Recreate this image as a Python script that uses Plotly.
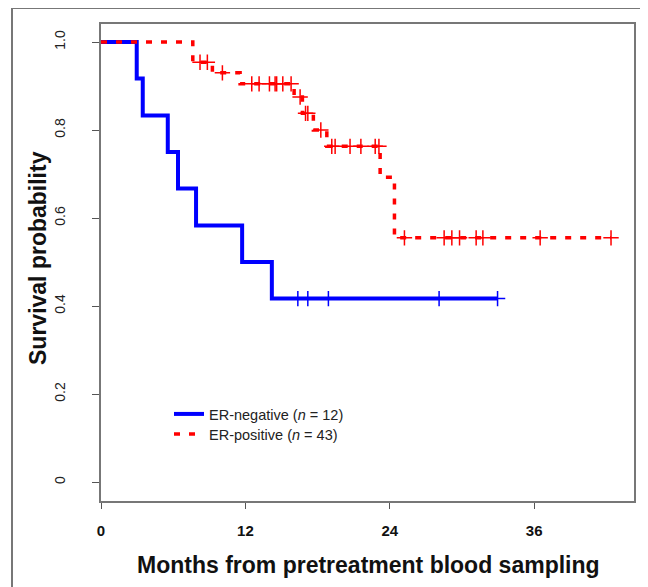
import numpy as np
import plotly.graph_objects as go

# ER-negative (n = 12): event times (months) and survival after each step
neg_times = [0, 2.97, 3.47, 5.55, 6.4, 7.9, 11.73, 14.2]
neg_surv = [1.0, 0.917, 0.833, 0.75, 0.667, 0.583, 0.5, 0.417]
neg_end = 32.96
neg_censor = [16.36, 17.19, 18.9, 28.1, 32.96]

# ER-positive (n = 43)
pos_times = [0, 7.63, 9.26, 11.56, 16.05, 16.74, 17.65, 18.77, 23.2, 24.39]
pos_surv = [1.0, 0.954, 0.930, 0.905, 0.875, 0.838, 0.800, 0.763, 0.693, 0.555]
pos_end = 42.39
pos_censor = [8.23, 8.84, 10.09, 12.53, 13.14, 14.0, 14.47, 14.6, 15.11, 15.8,
              16.55, 17.0, 17.19, 18.27, 19.18, 19.46, 20.7, 21.6, 22.79, 23.1,
              25.22, 28.52, 29.16, 29.8, 31.18, 31.74, 36.5, 42.39]

x_ticks = [0, 12, 24, 36]
y_ticks = [0, 0.2, 0.4, 0.6, 0.8, 1.0]
y_ticklabels = ["0", "0.2", "0.4", "0.6", "0.8", "1.0"]

BLUE = "#0000FF"
RED = "#FF0000"
FONT = "Arial, Liberation Sans, sans-serif"

W, H = 640, 579          # page has an 8px body margin
L, R, T, B = 93, 14, 16, 86
PW, PH = W - L - R, H - T - B


def px_x(page_x):
    return (page_x - 8 - L) / PW


def px_y(page_y):
    return (H - B - (page_y - 8)) / PH


def step_at(times, surv, t):
    idx = np.searchsorted(np.array(times), t, side="right") - 1
    return np.array(surv)[idx]


fig = go.Figure()

fig.add_trace(go.Scatter(
    x=neg_times + [neg_end], y=neg_surv + [neg_surv[-1]],
    mode="lines", line=dict(color=BLUE, width=4, shape="hv"),
    name="ER-negative (<i>n</i> = 12)", legend="legend"))
fig.add_trace(go.Scatter(
    x=pos_times + [pos_end], y=pos_surv + [pos_surv[-1]],
    mode="lines", line=dict(color=RED, width=3.5, shape="hv", dash="6px,9px"),
    name="ER-positive (<i>n</i> = 43)", legend="legend2"))

fig.add_trace(go.Scatter(
    x=neg_censor, y=step_at(neg_times, neg_surv, neg_censor),
    mode="markers", showlegend=False,
    marker=dict(symbol="cross-thin", size=11, line=dict(color=BLUE, width=1.5))))
fig.add_trace(go.Scatter(
    x=pos_censor, y=step_at(pos_times, pos_surv, pos_censor),
    mode="markers", showlegend=False,
    marker=dict(symbol="cross-thin", size=11, line=dict(color=RED, width=1.5))))

legend_style = dict(xanchor="left", yanchor="top", bgcolor="rgba(0,0,0,0)",
                    font=dict(size=14.5, color="#222"))

fig.update_layout(
    width=W, height=H,
    margin=dict(l=L, r=R, t=T, b=B),
    paper_bgcolor="white", plot_bgcolor="white",
    font=dict(family=FONT, color="#111"),
    showlegend=True,
    legend=dict(x=px_x(169), y=px_y(398), **legend_style),
    legend2=dict(x=px_x(169), y=px_y(418), **legend_style),
    xaxis=dict(range=[0, 44.3], tickvals=x_ticks, ticktext=["<b>%d</b>" % v for v in x_ticks],
               ticks="outside", ticklen=6, tickcolor="#555", showgrid=False, zeroline=False,
               showline=True, linecolor="#777", linewidth=2, mirror=True,
               tickfont=dict(size=15, color="#111"),
               ticklabelstandoff=9),
    yaxis=dict(range=[-0.043, 1.041], tickvals=y_ticks, ticktext=y_ticklabels,
               ticks="outside", ticklen=7, tickcolor="#555", showgrid=False, zeroline=False,
               showline=True, linecolor="#777", linewidth=2, mirror=True,
               tickangle=-90, tickfont=dict(size=14, color="#222"),
               ticklabelstandoff=21),
    annotations=[
        dict(text="<b>Months from pretreatment blood sampling</b>", xref="paper", yref="paper",
             x=px_x(368), y=px_y(565), xanchor="center", yanchor="middle",
             showarrow=False, font=dict(size=23, color="#111")),
        dict(text="<b>Survival probability</b>", xref="paper", yref="paper",
             x=px_x(38), y=px_y(258), xanchor="center", yanchor="middle",
             textangle=-90, showarrow=False, font=dict(size=23, color="#111")),
    ],
    shapes=[
        dict(type="rect", xref="paper", yref="paper",
             x0=px_x(12), x1=px_x(700), y0=px_y(650), y1=px_y(8),
             line=dict(color="#777", width=2), layer="below"),
    ],
)

fig.write_html("out.html")
